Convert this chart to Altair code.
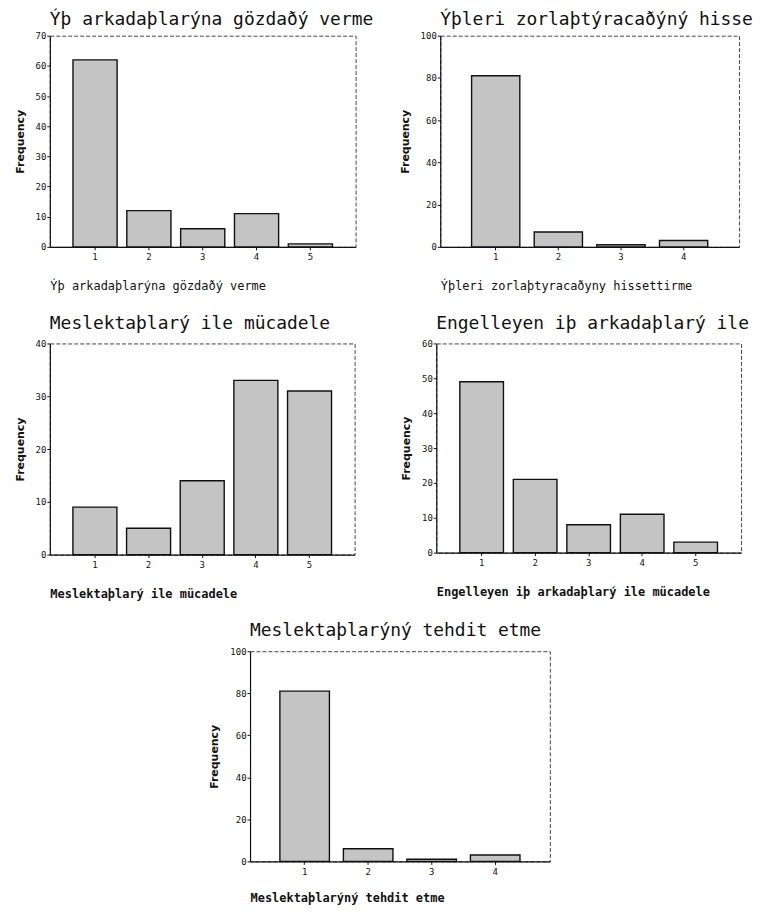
import altair as alt
import pandas as pd

# ---- data ----
cats5 = ["1", "2", "3", "4", "5"]
cats4 = ["1", "2", "3", "4"]

vals_gozdagi = [62, 12, 6, 11, 1]      # Ýþ arkadaþlarýna gözdaðý verme
vals_zorlastir = [81, 7, 1, 3]         # Ýþleri zorlaþtýracaðýný hissettirme
vals_mucadele = [9, 5, 14, 33, 31]     # Meslektaþlarý ile mücadele
vals_engelleyen = [49, 21, 8, 11, 3]   # Engelleyen iþ arkadaþlarý ile mücadele
vals_tehdit = [81, 6, 1, 3]            # Meslektaþlarýný tehdit etme

ticks_70 = [0, 10, 20, 30, 40, 50, 60, 70]
ticks_100 = [0, 20, 40, 60, 80, 100]
ticks_40 = [0, 10, 20, 30, 40]
ticks_60 = [0, 10, 20, 30, 40, 50, 60]

titles = [
    "Ýþ arkadaþlarýna gözdaðý verme",
    "Ýþleri zorlaþtýracaðýný hisse",
    "Meslektaþlarý ile mücadele",
    "Engelleyen iþ arkadaþlarý ile",
    "Meslektaþlarýný tehdit etme",
]
xtitles = [
    "Ýþ arkadaþlarýna gözdaðý verme",
    "Ýþleri zorlaþtyracaðyny hissettirme",
    "Meslektaþlarý ile mücadele",
    "Engelleyen iþ arkadaþlarý ile mücadele",
    "Meslektaþlarýný tehdit etme",
]

MONO = "DejaVu Sans Mono"


def panel(cats, vals, title, xtitle, ymax, yticks, width, height,
          pin, pout, xbold, xtitle_pad=19, title_offset=-7):
    df = pd.DataFrame({"cat": cats, "freq": vals})
    return (
        alt.Chart(df)
        .mark_bar(fill="#c4c4c4", stroke="#111111", strokeWidth=1.4)
        .encode(
            x=alt.X(
                "cat:O",
                sort=cats,
                title=xtitle,
                scale=alt.Scale(paddingInner=pin, paddingOuter=pout),
                axis=alt.Axis(
                    labelAngle=0,
                    labelFont=MONO,
                    labelFontSize=9,
                    labelPadding=3,
                    tickSize=3,
                    tickColor="#111111",
                    domainColor="#111111",
                    domainWidth=1.2,
                    titleFont=MONO,
                    titleFontSize=12,
                    titleFontWeight="bold" if xbold else "normal",
                    titleAnchor="start",
                    titlePadding=xtitle_pad,
                    titleColor="#111111",
                    labelColor="#111111",
                ),
            ),
            y=alt.Y(
                "freq:Q",
                title="Frequency",
                scale=alt.Scale(domain=[0, ymax], nice=False),
                axis=alt.Axis(
                    values=yticks,
                    grid=False,
                    labelFont=MONO,
                    labelFontSize=9,
                    labelPadding=1,
                    tickSize=3,
                    tickColor="#111111",
                    domainColor="#111111",
                    domainWidth=1.2,
                    titleFont="DejaVu Sans",
                    titleFontSize=11,
                    titleFontWeight="bold",
                    titlePadding=10,
                    titleColor="#111111",
                    labelColor="#111111",
                ),
            ),
        )
        .properties(
            width=width,
            height=height,
            view=alt.ViewBackground(stroke="#444444", strokeWidth=1, strokeDash=[4, 2]),
            title=alt.Title(
                title,
                anchor="start",
                frame="group",
                font=MONO,
                fontSize=18,
                fontWeight="normal",
                color="#111111",
                baseline="alphabetic",
                offset=title_offset,
            ),
        )
    )


c1 = panel(cats5, vals_gozdagi, titles[0], xtitles[0], 70, ticks_70, 307, 212, 0.18, 0.43, False, 19, -11)
c2 = panel(cats4, vals_zorlastir, titles[1], xtitles[1], 100, ticks_100, 300, 212, 0.23, 0.5, False, 19, -11)
c3 = panel(cats5, vals_mucadele, titles[2], xtitles[2], 40, ticks_40, 306, 212, 0.18, 0.43, True)
c4 = panel(cats5, vals_engelleyen, titles[3], xtitles[3], 60, ticks_60, 306, 210, 0.185, 0.44, True)
c5 = panel(cats4, vals_tehdit, titles[4], xtitles[4], 100, ticks_100, 301, 211, 0.22, 0.47, True, 16)

spacer = (
    alt.Chart(pd.DataFrame({"s": [0]}))
    .mark_point(opacity=0)
    .encode(x=alt.X("s:Q", axis=None), y=alt.Y("s:Q", axis=None))
    .properties(width=201, height=10, view=alt.ViewBackground(strokeOpacity=0))
)

row1 = alt.hconcat(c1, c2, spacing=85, bounds="flush")
row2 = alt.hconcat(c3, c4, spacing=82, bounds="flush")
row3 = alt.hconcat(spacer, c5, spacing=0, bounds="flush")

chart = (
    alt.vconcat(row1, row2, row3, spacing=21)
    .configure(background="white")
    .properties(padding={"left": 5, "top": 0, "right": 0, "bottom": -1})
)

chart.save("out.html", embed_options={"renderer": "svg", "actions": False})
